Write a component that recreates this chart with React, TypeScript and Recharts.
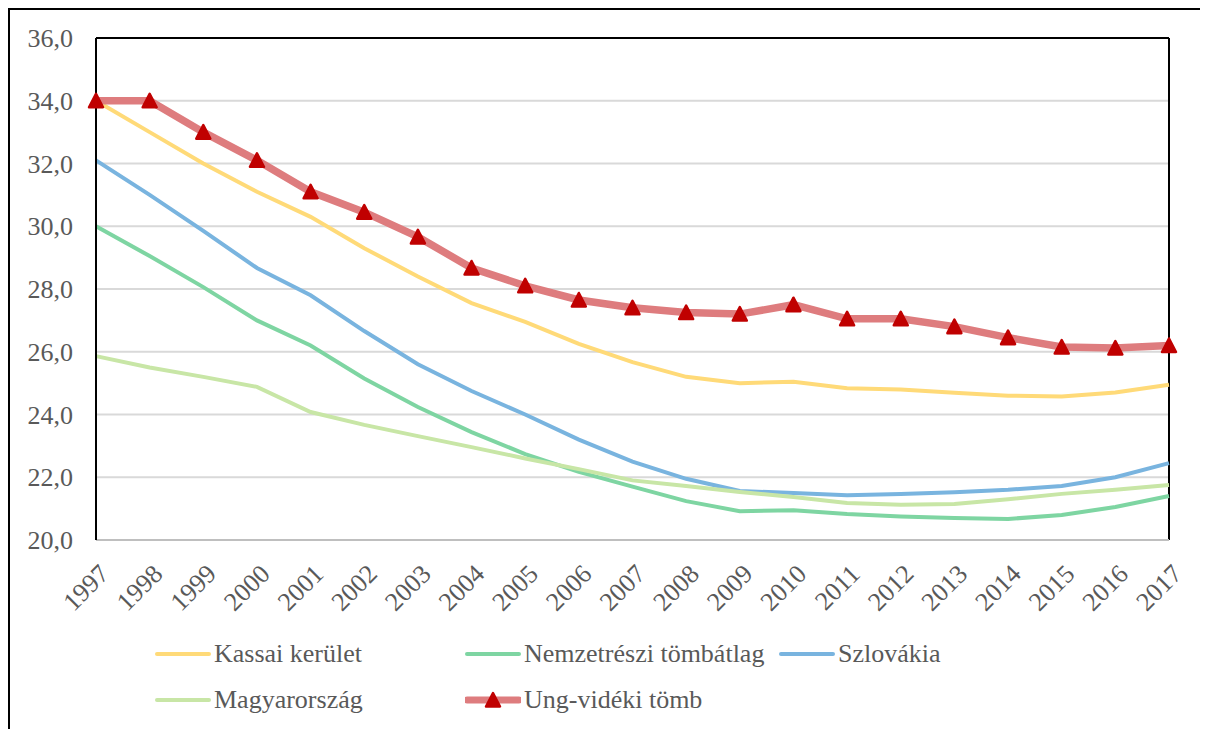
import React from 'react';
import { LineChart, Line, XAxis, YAxis, CartesianGrid, ReferenceLine, Legend } from 'recharts';

const years = ['1997','1998','1999','2000','2001','2002','2003','2004','2005','2006','2007','2008','2009','2010','2011','2012','2013','2014','2015','2016','2017'];
const kassai = [34.0,33.0,32.0,31.1,30.3,29.3,28.4,27.55,26.95,26.25,25.67,25.2,25.0,25.04,24.84,24.8,24.69,24.6,24.57,24.7,24.95];
const nemzetreszi = [30.0,29.05,28.06,27.0,26.2,25.15,24.24,23.44,22.74,22.17,21.7,21.24,20.92,20.95,20.83,20.75,20.7,20.67,20.8,21.05,21.4];
const szlovakia = [32.1,31.0,29.85,28.67,27.8,26.66,25.6,24.75,24.0,23.2,22.5,21.95,21.56,21.5,21.43,21.47,21.52,21.6,21.72,22.0,22.45];
const magyarorszag = [25.86,25.5,25.2,24.88,24.08,23.67,23.31,22.96,22.6,22.26,21.9,21.72,21.53,21.37,21.18,21.12,21.15,21.3,21.47,21.6,21.75];
const ungvideki = [34.0,34.0,33.0,32.1,31.1,30.45,29.66,28.67,28.1,27.65,27.4,27.25,27.2,27.5,27.05,27.05,26.8,26.45,26.15,26.12,26.2];
const yTicks = [20, 22, 24, 26, 28, 30, 32, 34, 36];

const data = years.map((y, i) => ({
  year: y,
  kassai: kassai[i],
  nemzetreszi: nemzetreszi[i],
  szlovakia: szlovakia[i],
  magyarorszag: magyarorszag[i],
  ungvideki: ungvideki[i],
}));

const C_YELLOW = '#FFDA78';
const C_GREEN = '#7ED5A2';
const C_BLUE = '#79B4DF';
const C_LGREEN = '#C8E6A6';
const C_RED = '#DE7C7E';
const C_MARK = '#C00000';
const TEXT = '#595959';
const FONT = "'Liberation Serif', 'Times New Roman', Times, 'DejaVu Serif', serif";

const Tri = (props: any) => {
  const { cx, cy } = props;
  if (cx == null || cy == null) return null;
  const d = `M ${cx} ${cy - 7} L ${cx + 7} ${cy + 6.5} L ${cx - 7} ${cy + 6.5} Z`;
  return <path d={d} fill={C_MARK} stroke={C_MARK} strokeWidth={2.5} strokeLinejoin="round" />;
};

const XTick = (props: any) => {
  const { x, y, payload } = props;
  const tx = x + 8;
  const ty = y + 29;
  return (
    <text x={tx} y={ty} dy="0.35em" textAnchor="end" fill={TEXT} fontSize={26}
      style={{ fontFamily: FONT }}
      transform={`rotate(-45, ${tx}, ${ty})`}>
      {payload.value}
    </text>
  );
};

const YTick = (props: any) => {
  const { x, y, payload } = props;
  return (
    <text x={x} y={y} dy="0.35em" textAnchor="end" fill={TEXT} fontSize={26} style={{ fontFamily: FONT }}>
      {Number(payload.value).toFixed(1).replace('.', ',')}
    </text>
  );
};

const legendItems = [
  { name: 'Kassai kerület', color: C_YELLOW, x: 147, y: 34, marker: false },
  { name: 'Nemzetrészi tömbátlag', color: C_GREEN, x: 457, y: 34, marker: false },
  { name: 'Szlovákia', color: C_BLUE, x: 771, y: 34, marker: false },
  { name: 'Magyarország', color: C_LGREEN, x: 147, y: 80, marker: false },
  { name: 'Ung-vidéki tömb', color: C_RED, x: 457, y: 80, marker: true },
];

const renderLegend = () => (
  <div style={{ position: 'relative', width: 1200, height: 100 }}>
    {legendItems.map((it) => (
      <div key={it.name} style={{ position: 'absolute', left: it.x, top: it.y - 15, height: 30, display: 'flex', alignItems: 'center', whiteSpace: 'nowrap' }}>
        <svg width={56} height={30} style={{ display: 'block' }}>
          <line x1={2} y1={15} x2={54} y2={15} stroke={it.color} strokeWidth={it.marker ? 7 : 4} strokeLinecap="round" />
          {it.marker && (
            <path d="M 28 8 L 35 21.5 L 21 21.5 Z" fill={C_MARK} stroke={C_MARK} strokeWidth={2.5} strokeLinejoin="round" />
          )}
        </svg>
        <span style={{ marginLeft: 3, fontFamily: FONT, fontSize: 26, color: TEXT, lineHeight: '30px' }}>{it.name}</span>
      </div>
    ))}
  </div>
);

export default function App() {
  return (
    <div style={{ position: 'relative', width: 1200, height: 721, fontFamily: FONT }}>
      <div style={{ position: 'absolute', left: 0, top: 0, width: 1200, height: 721, borderLeft: '2px solid #000', borderTop: '2px solid #000', boxSizing: 'border-box', pointerEvents: 'none' }} />
      <div style={{ position: 'absolute', left: 0, top: 0 }}>
        <LineChart width={1200} height={721} data={data} margin={{ top: 30, right: 39, bottom: 9, left: 0 }}>
          <CartesianGrid vertical={false} stroke="#D9D9D9" strokeWidth={2} />
          <XAxis dataKey="year" type="category" interval={0} height={80} tickSize={0} tickMargin={0}
            tickLine={false} axisLine={{ stroke: '#BFBFBF', strokeWidth: 2 }} tick={<XTick />} padding={{ left: 0, right: 0 }} />
          <YAxis type="number" domain={[20, 36]} ticks={yTicks} width={88} tickSize={0} tickMargin={23}
            tickLine={false} axisLine={{ stroke: '#000', strokeWidth: 2 }} tick={<YTick />} />
          <ReferenceLine y={36} stroke="#000" strokeWidth={2} />
          <ReferenceLine x="2017" stroke="#000" strokeWidth={2} />
          <Legend verticalAlign="bottom" content={renderLegend} wrapperStyle={{ left: 0, bottom: 9, width: 1200, height: 100 }} />
          <Line type="linear" dataKey="kassai" name="Kassai kerület" stroke={C_YELLOW} strokeWidth={4} dot={false} isAnimationActive={false} />
          <Line type="linear" dataKey="nemzetreszi" name="Nemzetrészi tömbátlag" stroke={C_GREEN} strokeWidth={4} dot={false} isAnimationActive={false} />
          <Line type="linear" dataKey="szlovakia" name="Szlovákia" stroke={C_BLUE} strokeWidth={4} dot={false} isAnimationActive={false} />
          <Line type="linear" dataKey="magyarorszag" name="Magyarország" stroke={C_LGREEN} strokeWidth={4} dot={false} isAnimationActive={false} />
          <Line type="linear" dataKey="ungvideki" name="Ung-vidéki tömb" stroke={C_RED} strokeWidth={7.5} dot={<Tri />} activeDot={false} isAnimationActive={false} />
        </LineChart>
      </div>
    </div>
  );
}
